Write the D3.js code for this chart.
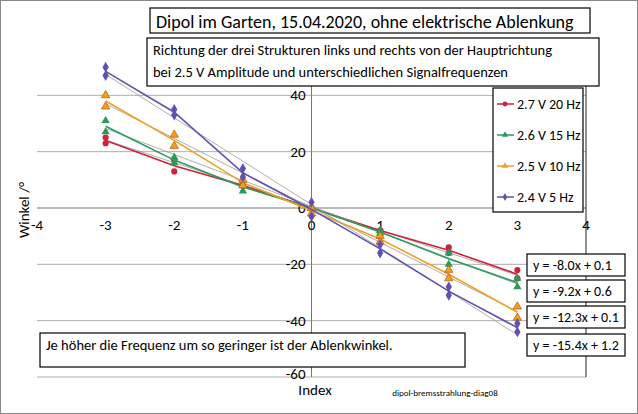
<!DOCTYPE html><html><head><meta charset="utf-8">
<script src="https://cdn.jsdelivr.net/npm/d3@7"></script>
<style>body{margin:0;background:#fff}text{font-family:Calibri,Carlito,"Open Sans",sans-serif}</style></head><body>
<svg id="c" width="638" height="414"></svg>
<script>
const seriesNames=["2.7 V 20 Hz","2.6 V 15 Hz","2.5 V 10 Hz","2.4 V 5 Hz"];
const colors=["#d0203a","#2a9a5a","#f0a020","#6050b0"];
const xIdx=[-3,-2,-1,0,1,2,3];
const red=[[23,25],[13,17],[8,8],[0,0],[-8,-8],[-14,-16],[-22,-25]];
const green=[[31,27],[16,18],[6,9],[0,0],[-8,-9],[-16,-20],[-25,-28]];
const orange=[[40,36],[26,22],[8,10],[-2,0],[-10,-12],[-22,-25],[-35,-39]];
const purple=[[50,47],[35,33],[14,11],[2,-3],[-13,-16],[-28,-31],[-41,-44]];
const slopes=[-8.0,-9.2,-12.3,-15.4], intercepts=[0.1,0.6,0.1,1.2];
const xTicks=[-4,-3,-2,-1,0,1,2,3,4], yTicks=[-60,-40,-20,0,20,40];
const data=[red,green,orange,purple];
const svg=d3.select("#c");
svg.append("rect").attr("x",0.5).attr("y",0.5).attr("width",637).attr("height",413).attr("fill","#fff").attr("stroke","#888");
const x=d3.scaleLinear().domain([-4,4]).range([37,586]);
const y=d3.scaleLinear().domain([-60,60]).range([377,39]);
const g=svg.append("g");
yTicks.forEach(t=>g.append("line").attr("x1",x(-4)).attr("x2",x(4)).attr("y1",y(t)).attr("y2",y(t)).attr("stroke",t===0?"#777":"#999").attr("stroke-width",t===0?1.2:0.8));
g.append("line").attr("x1",x(0)).attr("x2",x(0)).attr("y1",y(60)).attr("y2",y(-60)).attr("stroke","#777");
g.append("line").attr("x1",x(4)).attr("x2",x(4)).attr("y1",y(60)).attr("y2",y(-60)).attr("stroke","#222");
xTicks.forEach(t=>g.append("text").attr("x",x(t)).attr("y",y(0)+22).attr("text-anchor","middle").attr("font-size",15).text(t));
yTicks.forEach(t=>g.append("text").attr("x",x(0)-6).attr("y",y(t)+(t===-60?2:5)).attr("text-anchor","end").attr("font-size",15).text(t));
const line=d3.line().x(d=>x(d[0])).y(d=>y(d[1]));
data.forEach((s,i)=>{
  g.append("path").attr("d",line([[-3,slopes[i]*-3+intercepts[i]],[3,slopes[i]*3+intercepts[i]]])).attr("stroke","#999").attr("stroke-width",0.8).attr("fill","none");
  g.append("path").attr("d",line(s.map((v,j)=>[xIdx[j],d3.mean(v)]))).attr("stroke",colors[i]).attr("stroke-width",1.6).attr("fill","none");
  const sym=[d3.symbolCircle,d3.symbolTriangle,d3.symbolTriangle,d3.symbolDiamond][i];
  s.forEach((v,j)=>v.forEach(val=>g.append("path").attr("d",d3.symbol(sym,i===3?34:30)()).attr("transform",`translate(${x(xIdx[j])},${y(val)})`).attr("fill",colors[i]).attr("stroke",i===2?"#c06010":"none").attr("stroke-width",0.8)));
});
function box(x0,y0,w,h,lines,fs,dy){svg.append("rect").attr("x",x0).attr("y",y0).attr("width",w).attr("height",h).attr("fill","#fff").attr("stroke","#000").attr("stroke-width",1.2);
 lines.forEach((l,k)=>svg.append("text").attr("x",x0+6).attr("y",y0+fs+2+k*dy).attr("font-size",fs).text(l));}
box(150,8,440,25,["Dipol im Garten, 15.04.2020, ohne elektrische Ablenkung"],18,0);
box(147,38,452,48,["Richtung der drei Strukturen links und rechts von der Hauptrichtung","bei 2.5 V Amplitude und unterschiedlichen Signalfrequenzen"],14.5,22);
box(40,333,425,34,["Je höher die Frequenz um so geringer ist der Ablenkwinkel."],14.5,0);
const eqY=[254,280,306,334];
slopes.forEach((s,i)=>box(527,eqY[i],98,22,[`y = ${s.toFixed(1)}x + ${intercepts[i].toFixed(1)}`],14,0));
svg.append("rect").attr("x",493).attr("y",88).attr("width",90).attr("height",124).attr("fill","#fff").attr("stroke","#000").attr("stroke-width",1.2);
seriesNames.forEach((n,i)=>{const yy=104+i*31;
 svg.append("line").attr("x1",497).attr("x2",514).attr("y1",yy).attr("y2",yy).attr("stroke",colors[i]).attr("stroke-width",1.5);
 svg.append("path").attr("d",d3.symbol([d3.symbolCircle,d3.symbolTriangle,d3.symbolTriangle,d3.symbolDiamond][i],18)()).attr("transform",`translate(505,${yy})`).attr("fill",colors[i]);
 svg.append("text").attr("x",517).attr("y",yy+5).attr("font-size",14).text(n);});
svg.append("text").attr("transform","translate(29,210) rotate(-90)").attr("text-anchor","middle").attr("font-size",15).text("Winkel /°");
svg.append("text").attr("x",315).attr("y",395).attr("text-anchor","middle").attr("font-size",15).text("Index");
svg.append("text").attr("x",445).attr("y",396).attr("text-anchor","middle").attr("font-size",9).text("dipol-bremsstrahlung-diag08");
</script></body></html>
